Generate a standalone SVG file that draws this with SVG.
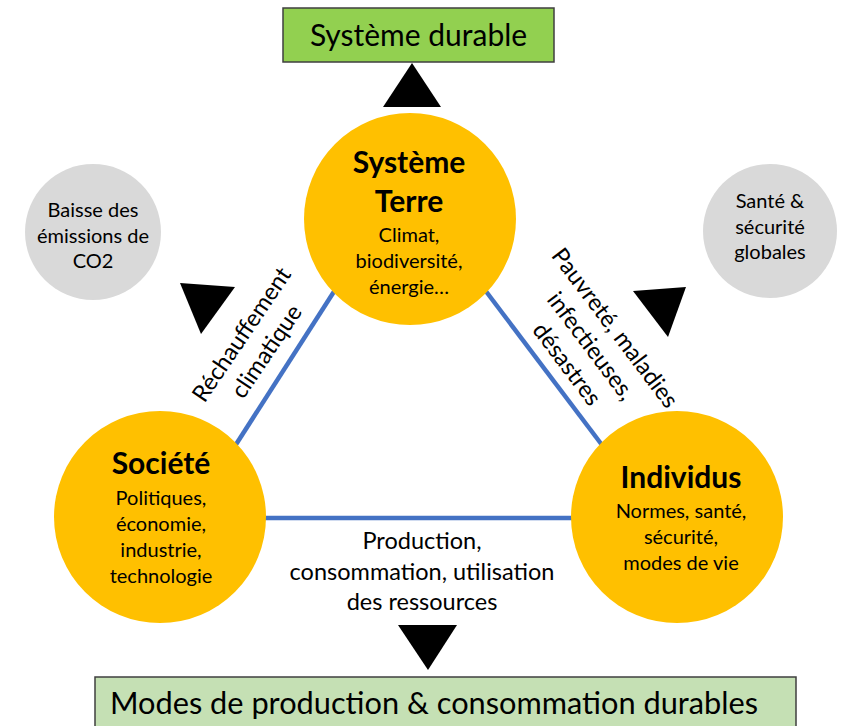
<svg xmlns="http://www.w3.org/2000/svg" width="843" height="726" viewBox="0 0 843 726">
<style>
text{font-family:Lato,"Liberation Sans",sans-serif;fill:#000;text-anchor:middle}
.big{font-size:30px}
.head{font-size:30px;font-weight:bold}
.sub{font-size:20px}
.lab{font-size:23.5px}
.core{fill:#FFC000}
.grey{fill:#D9D9D9}
.box{stroke:#3F3F3F;stroke-width:1.5}
.edge{stroke:#4472C4;stroke-width:4.5;fill:none}
.tri{fill:#000}
</style>
<rect width="843" height="726" fill="#fff"/>
<g id="connectors">
<line class="edge" x1="335" y1="290" x2="235" y2="446"/>
<line class="edge" x1="485" y1="290" x2="602" y2="445"/>
<line class="edge" x1="263" y1="518" x2="573" y2="518"/>
<text class="lab" transform="translate(254,343) rotate(-56)"><tspan x="0" y="-7">Réchauffement</tspan><tspan x="0" y="23">climatique</tspan></text>
<text class="lab" transform="translate(591,346) rotate(53)"><tspan x="0" y="-22">Pauvreté, maladies</tspan><tspan x="0" y="8">infectieuses,</tspan><tspan x="0" y="38">désastres</tspan></text>
<text class="lab"><tspan x="422" y="549">Production,</tspan><tspan x="422" y="580">consommation, utilisation</tspan><tspan x="422" y="610">des ressources</tspan></text>
</g>
<g id="arrows">
<polygon class="tri" points="412,63 441,107 383,107"/>
<polygon class="tri" points="180,283 235,287 201,334"/>
<polygon class="tri" points="633,291 686,287 668,337"/>
<polygon class="tri" points="398,625 457,625 428,670"/>
</g>
<g id="node-systeme-durable">
<rect class="box" x="283" y="8" width="271" height="54" fill="#92D050"/>
<text class="big" x="418.5" y="46">Système durable</text>
</g>
<g id="node-systeme-terre">
<circle class="core" cx="410" cy="219" r="106"/>
<text class="head" x="409" y="173">Système</text>
<text class="head" x="409" y="212">Terre</text>
<text class="sub"><tspan x="409" y="242">Climat,</tspan><tspan x="409" y="268">biodiversité,</tspan><tspan x="409" y="294">énergie…</tspan></text>
</g>
<g id="node-societe">
<circle class="core" cx="160" cy="517" r="106"/>
<text class="head" x="161" y="474">Société</text>
<text class="sub"><tspan x="161" y="505">Politiques,</tspan><tspan x="161" y="531">économie,</tspan><tspan x="161" y="557">industrie,</tspan><tspan x="161" y="583">technologie</tspan></text>
</g>
<g id="node-individus">
<circle class="core" cx="677" cy="517" r="106"/>
<text class="head" x="681" y="488">Individus</text>
<text class="sub"><tspan x="681" y="518">Normes, santé,</tspan><tspan x="681" y="544">sécurité,</tspan><tspan x="681" y="570">modes de vie</tspan></text>
</g>
<g id="node-baisse-co2">
<circle class="grey" cx="93" cy="232" r="68"/>
<text class="sub"><tspan x="93" y="217">Baisse des</tspan><tspan x="93" y="243">émissions de</tspan><tspan x="93" y="268">CO2</tspan></text>
</g>
<g id="node-sante-securite">
<circle class="grey" cx="770" cy="231" r="67"/>
<text class="sub"><tspan x="770" y="208">Santé &amp;</tspan><tspan x="770" y="234">sécurité</tspan><tspan x="770" y="259">globales</tspan></text>
</g>
<g id="node-modes-durables">
<rect class="box" x="95" y="677" width="701" height="60" fill="#C5E0B4"/>
<text class="big" x="110" y="714" style="text-anchor:start;font-size:31px" textLength="648" lengthAdjust="spacingAndGlyphs">Modes de production &amp; consommation durables</text>
</g>
</svg>
